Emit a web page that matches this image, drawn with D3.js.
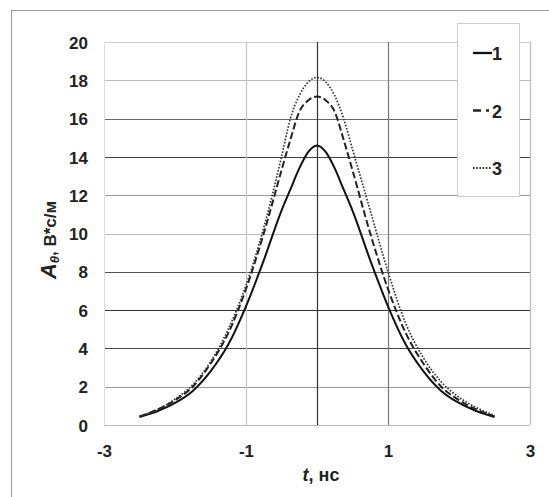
<!DOCTYPE html>
<html>
<head>
<meta charset="utf-8">
<script src="https://cdn.jsdelivr.net/npm/d3@7"></script>
<style>
  body { margin: 0; background: #fff; }
  svg { font-family: "Liberation Sans", Arial, sans-serif; }
  .tick text { font-size: 17px; font-weight: bold; fill: #222; }
</style>
</head>
<body>
<svg id="chart"></svg>
<script>
const width = 549;
const height = 497;

// time, ns
const times = [-2.5, -2.25, -2, -1.75, -1.5, -1.25, -1, -0.75, -0.5, -0.375, -0.25, -0.125, 0,
  0.125, 0.25, 0.375, 0.5, 0.75, 1, 1.25, 1.5, 1.75, 2, 2.25, 2.5];
const series1 = [0.42, 0.72, 1.15, 1.78, 2.8, 4.2, 6.2, 8.6, 11.2, 12.3, 13.4, 14.25, 14.6,
  14.25, 13.4, 12.3, 11.2, 8.6, 6.2, 4.2, 2.8, 1.78, 1.15, 0.72, 0.42];
const series2 = [0.45, 0.8, 1.3, 2.0, 3.2, 4.8, 7.1, 10.0, 13.3, 14.9, 16.35, 16.95, 17.15,
  16.95, 16.35, 14.9, 13.3, 10.0, 7.1, 4.8, 3.2, 2.0, 1.3, 0.8, 0.45];
const series3 = [0.45, 0.8, 1.35, 2.1, 3.3, 5.0, 7.3, 10.3, 14.0, 16.0, 17.2, 17.9, 18.15,
  17.9, 17.2, 16.0, 14.4, 11.2, 8.0, 5.3, 3.5, 2.25, 1.45, 0.9, 0.5];
const seriesNames = ["1", "2", "3"];
const xTicks = [-3, -1, 1, 3];
const xGrid = [-1, 0, 1, 3];
const yTicks = [0, 2, 4, 6, 8, 10, 12, 14, 16, 18, 20];

const x = d3.scaleLinear().domain([-3, 3]).range([104, 530]);
const y = d3.scaleLinear().domain([0, 20]).range([425, 42]);

// the scanned gridlines are not all the same grey
const hGridColor = { 0: "#bbb", 2: "#999", 4: "#444", 6: "#333", 8: "#555", 10: "#bbb",
  12: "#999", 14: "#444", 16: "#666", 18: "#bbb", 20: "#ccc" };
const vGridColor = { "-1": "#c4c4c4", 0: "#333", 1: "#777", 3: "#bbb" };

const styles = [
  { dash: null, width: 2, color: "#111" },
  { dash: "7,3", width: 2, color: "#222" },
  { dash: "1.6,1.6", width: 1.7, color: "#333" }
];

const svg = d3.select("#chart")
  .attr("width", width)
  .attr("height", height);

// outer frame
svg.append("rect")
  .attr("x", 11.5).attr("y", 10.5)
  .attr("width", 560).attr("height", 500)
  .attr("fill", "none")
  .attr("stroke", "#999");

// horizontal grid
svg.append("g").selectAll("line")
  .data(yTicks)
  .enter().append("line")
  .attr("x1", x(-3)).attr("x2", x(3))
  .attr("y1", d => Math.round(y(d)) + 0.5)
  .attr("y2", d => Math.round(y(d)) + 0.5)
  .attr("stroke", d => hGridColor[d])
  .attr("stroke-width", 1.2);

// vertical grid
svg.append("g").selectAll("line")
  .data(xGrid)
  .enter().append("line")
  .attr("x1", d => Math.round(x(d)) + 0.5)
  .attr("x2", d => Math.round(x(d)) + 0.5)
  .attr("y1", y(20)).attr("y2", y(0))
  .attr("stroke", d => vGridColor[d])
  .attr("stroke-width", 1.2);

// left edge
svg.append("line")
  .attr("x1", x(-3) + 0.5).attr("x2", x(-3) + 0.5)
  .attr("y1", y(20)).attr("y2", y(0))
  .attr("stroke", "#ddd");

// axes (labels only)
const yAxis = svg.append("g")
  .attr("transform", `translate(${x(-3) - 16},0)`)
  .call(d3.axisLeft(y).tickValues(yTicks).tickSize(0).tickPadding(0));
yAxis.select(".domain").remove();
yAxis.selectAll("text").attr("dy", "0.36em");

const xAxis = svg.append("g")
  .attr("transform", `translate(0,${y(0) + 20})`)
  .call(d3.axisBottom(x).tickValues(xTicks).tickSize(0).tickPadding(0)
    .tickFormat(d => d));
xAxis.select(".domain").remove();

// curves
const line = d3.line()
  .x((d, i) => x(times[i]))
  .y(d => y(d))
  .curve(d3.curveMonotoneX);

[series1, series2, series3].forEach((s, i) => {
  svg.append("path")
    .datum(s)
    .attr("fill", "none")
    .attr("stroke", styles[i].color)
    .attr("stroke-width", styles[i].width)
    .attr("stroke-dasharray", styles[i].dash)
    .attr("d", line);
});

// legend
const legend = svg.append("g");
legend.append("rect")
  .attr("x", 457.5).attr("y", 23.5)
  .attr("width", 62).attr("height", 173)
  .attr("fill", "#fff")
  .attr("stroke", "#ccc");

const legendItems = legend.selectAll(".legend-item")
  .data(seriesNames)
  .enter().append("g")
  .attr("class", "legend-item")
  .attr("transform", (d, i) => `translate(473, ${53 + i * 57.5})`);

legendItems.append("line")
  .attr("x1", 0).attr("x2", 19)
  .attr("stroke", (d, i) => styles[i].color)
  .attr("stroke-width", (d, i) => styles[i].width + 0.3)
  .attr("stroke-dasharray", (d, i) => i === 1 ? "8,5,3,3" : styles[i].dash);

legendItems.append("text")
  .attr("x", 19)
  .attr("y", 7)
  .attr("font-size", 18)
  .attr("font-weight", "bold")
  .attr("fill", "#222")
  .text(d => d);

// axis titles
const yTitle = svg.append("text")
  .attr("transform", "translate(56,240) rotate(-90)")
  .attr("text-anchor", "middle")
  .attr("font-weight", "bold")
  .attr("fill", "#222");
yTitle.append("tspan").attr("font-style", "italic").attr("font-size", 22).text("A");
yTitle.append("tspan").attr("font-style", "italic").attr("font-size", 13).attr("dy", 3).text("θ");
yTitle.append("tspan").attr("font-size", 17).attr("dy", -3).text(", В*с/м");

const xTitle = svg.append("text")
  .attr("x", 321).attr("y", 481)
  .attr("text-anchor", "middle")
  .attr("font-weight", "bold")
  .attr("font-size", 18)
  .attr("fill", "#222");
xTitle.append("tspan").attr("font-style", "italic").text("t");
xTitle.append("tspan").text(", нс");
</script>
</body>
</html>
